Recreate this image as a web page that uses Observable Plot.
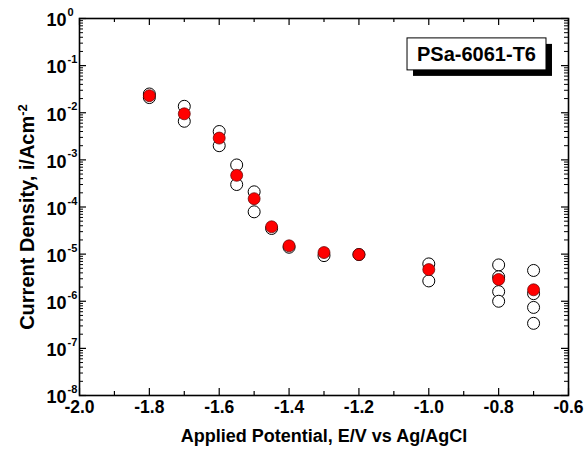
<!DOCTYPE html>
<html>
<head>
<meta charset="utf-8">
<script src="https://cdn.jsdelivr.net/npm/d3@7"></script>
<script src="https://cdn.jsdelivr.net/npm/@observablehq/plot@0.6"></script>
<style>
  html, body { margin: 0; padding: 0; background: #fff; }
  #chart { width: 586px; height: 456px; }
  svg { font-family: "Liberation Sans", Arial, sans-serif; }
</style>
</head>
<body>
<div id="chart"></div>
<script>
// ---- data ----
const potentials = [-1.8, -1.7, -1.6, -1.55, -1.5, -1.45, -1.4, -1.3, -1.2, -1.0, -0.8, -0.7];
const meanCurrent = [2.3e-2, 9.5e-3, 2.9e-3, 4.7e-4, 1.5e-4, 3.8e-5, 1.5e-5, 1.08e-5, 9.8e-6, 4.7e-6, 2.9e-6, 1.75e-6];
const replicateCurrent = [
  [2.5e-2, 2.1e-2],
  [1.37e-2, 6.6e-3],
  [4.0e-3, 2.0e-3],
  [7.8e-4, 3.0e-4],
  [2.1e-4, 7.9e-5],
  [3.5e-5],
  [1.4e-5],
  [9.3e-6],
  [9.8e-6],
  [6.2e-6, 2.7e-6],
  [5.9e-6, 3.3e-6, 1.6e-6, 1.0e-6],
  [4.5e-6, 1.45e-6, 7.4e-7, 3.4e-7]
];
const xTickValues = [-2.0, -1.8, -1.6, -1.4, -1.2, -1.0, -0.8, -0.6];
const xMinorValues = [-1.9, -1.7, -1.5, -1.3, -1.1, -0.9, -0.7];
const yTickExponents = [0, -1, -2, -3, -4, -5, -6, -7, -8];
const xTitle = "Applied Potential, E/V vs Ag/AgCl";
const yTitle = "Current Density, i/Acm";
const yTitleSup = "-2";
const sampleLabel = "PSa-6061-T6";

// ---- tables ----
const replicates = potentials.flatMap((p, i) => replicateCurrent[i].map(v => ({E: p, i: v})));
const means = potentials.map((p, i) => ({E: p, i: meanCurrent[i]}));
const yMinor = [];
yTickExponents.slice(1).forEach(k => { for (let m = 2; m <= 9; m++) yMinor.push(m * 10 ** k); });
const yMajor = yTickExponents.map(k => 10 ** k);

const W = 586, H = 456, mL = 79, mR = 18, mT = 18, mB = 61;
const fW = W - mL - mR, fH = H - mT - mB;
const font = "Liberation Sans, Arial, sans-serif";

const plot = Plot.plot({
  width: W, height: H,
  marginLeft: mL, marginRight: mR, marginTop: mT, marginBottom: mB,
  style: {fontFamily: font, background: "#fff"},
  x: {domain: [-2.0, -0.6], axis: null},
  y: {type: "log", domain: [1e-8, 1], axis: null},
  marks: [
    // inward ticks on all four sides
    Plot.tickX(xTickValues, {x: d => d, insetTop: fH - 7, stroke: "#000", strokeWidth: 1.2}),
    Plot.tickX(xTickValues, {x: d => d, insetBottom: fH - 7, stroke: "#000", strokeWidth: 1.2}),
    Plot.tickX(xMinorValues, {x: d => d, insetTop: fH - 4, stroke: "#000", strokeWidth: 1.2}),
    Plot.tickX(xMinorValues, {x: d => d, insetBottom: fH - 4, stroke: "#000", strokeWidth: 1.2}),
    Plot.tickY(yMajor, {y: d => d, insetRight: fW - 7, stroke: "#000", strokeWidth: 1.2}),
    Plot.tickY(yMajor, {y: d => d, insetLeft: fW - 7, stroke: "#000", strokeWidth: 1.2}),
    Plot.tickY(yMinor, {y: d => d, insetRight: fW - 4, stroke: "#000", strokeWidth: 1}),
    Plot.tickY(yMinor, {y: d => d, insetLeft: fW - 4, stroke: "#000", strokeWidth: 1}),
    Plot.frame({stroke: "#000", strokeWidth: 1.6}),
    // tick labels
    Plot.text(xTickValues, {x: d => d, text: d => d.toFixed(1), frameAnchor: "bottom", dy: 17,
      fontSize: 17.5, fontWeight: "bold", fill: "#000"}),
    Plot.text(yTickExponents, {y: d => 10 ** d, text: () => "10", frameAnchor: "left", textAnchor: "end",
      dx: -13, dy: 2, fontSize: 18, fontWeight: "bold", fill: "#000"}),
    Plot.text(yTickExponents, {y: d => 10 ** d, text: d => String(d), frameAnchor: "left", textAnchor: "start",
      dx: -12, dy: -6, fontSize: 11, fontWeight: "bold", fill: "#000"}),
    // axis titles
    Plot.text([xTitle], {text: d => d, frameAnchor: "bottom", dy: 46, fontSize: 18, fontWeight: "bold", fill: "#000"}),
    Plot.text([yTitle], {text: d => d, frameAnchor: "left", textAnchor: "middle", dx: -52, dy: 10, rotate: -90,
      fontSize: 20, fontWeight: "bold", fill: "#000"}),
    // sample label
    Plot.text([sampleLabel], {text: d => d, frameAnchor: "top-right", textAnchor: "middle", lineAnchor: "middle",
      dx: -92, dy: 36, fontSize: 20, fontWeight: "bold", fill: "#000"}),
    // data
    Plot.dot(replicates, {x: "E", y: "i", r: 6, fill: "#fff", stroke: "#000", strokeWidth: 1}),
    Plot.dot(means, {x: "E", y: "i", r: 6, fill: "#ff0000", stroke: "#5a0000", strokeWidth: 0.7})
  ]
});
document.getElementById("chart").appendChild(plot);

// superscript on the y title
const svg = d3.select(plot);
svg.selectAll("text").filter(function() { return this.textContent === yTitle; }).each(function() {
  d3.select(this).append("tspan").attr("dy", "-0.55em").attr("font-size", "13").text(yTitleSup);
});
// box with drop shadow behind the sample label (same coordinate frame as the text)
svg.selectAll("text").filter(function() { return this.textContent === sampleLabel; }).each(function() {
  const bb = this.getBBox();
  const tr = this.getAttribute("transform");
  const padX = 10, padY = 6;
  const x = bb.x - padX, y = bb.y - padY + 1, w = bb.width + 2 * padX, h = bb.height + 2 * padY - 2;
  const g = this.parentNode;
  const shadow = document.createElementNS("http://www.w3.org/2000/svg", "rect");
  const box = document.createElementNS("http://www.w3.org/2000/svg", "rect");
  for (const [el, dx, fill] of [[shadow, 6, "#000"], [box, 0, "#fff"]]) {
    el.setAttribute("x", x + dx); el.setAttribute("y", y + dx);
    el.setAttribute("width", w); el.setAttribute("height", h);
    el.setAttribute("fill", fill);
    if (tr) el.setAttribute("transform", tr);
  }
  box.setAttribute("stroke", "#000"); box.setAttribute("stroke-width", "1");
  g.insertBefore(shadow, this);
  g.insertBefore(box, this);
});
</script>
</body>
</html>
